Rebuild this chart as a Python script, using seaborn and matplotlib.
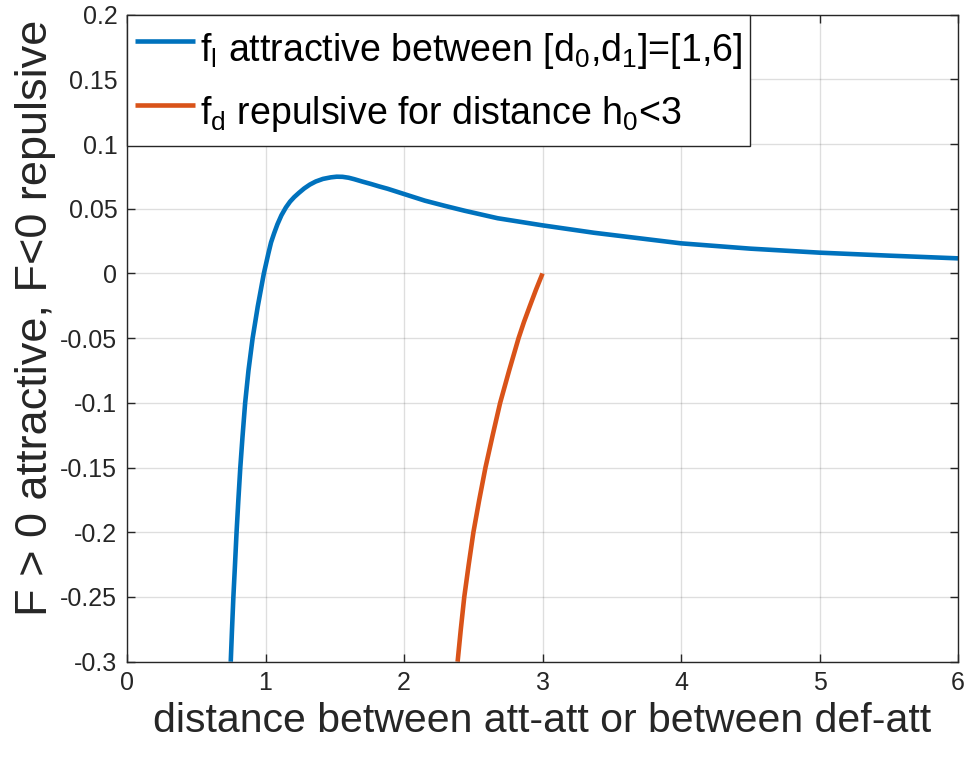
import matplotlib
matplotlib.use("Agg")
import matplotlib.pyplot as plt
import seaborn as sns
import pandas as pd

# Attractive force f_l
fl_x = [0.749, 0.758, 0.768, 0.779, 0.791, 0.804, 0.818, 0.834, 0.853, 0.877, 0.907,
        0.944, 0.988, 1.021, 1.040, 1.062, 1.086, 1.115, 1.147, 1.177, 1.207, 1.240,
        1.279, 1.320, 1.363, 1.415, 1.472, 1.514, 1.556, 1.600, 1.640, 1.700, 1.761,
        1.820, 1.881, 1.989, 2.15, 2.29, 2.437, 2.676, 3.0, 3.37, 3.5, 4.0, 4.5,
        5.0, 5.5, 6.0]
fl_y = [-0.3, -0.2755, -0.25, -0.2266, -0.2, -0.175, -0.15, -0.1261, -0.1, -0.075, -0.05,
        -0.0255, 0.0, 0.0156, 0.024, 0.031, 0.038, 0.045, 0.051, 0.0555, 0.059, 0.0622,
        0.0657, 0.0687, 0.0711, 0.0731, 0.0743, 0.0748, 0.0747, 0.0740, 0.0729, 0.0710, 0.0692,
        0.0673, 0.0655, 0.0618, 0.0563, 0.0524, 0.0485, 0.0427, 0.0372, 0.0315, 0.0298, 0.0233,
        0.0192, 0.0161, 0.0138, 0.0117]

# Repulsive force f_d
fd_x = [2.387, 2.410, 2.435, 2.467, 2.501, 2.543, 2.588, 2.640, 2.694, 2.759, 2.827,
        2.866, 2.909, 2.953, 3.0]
fd_y = [-0.3, -0.275, -0.25, -0.225, -0.2, -0.175, -0.15, -0.125, -0.1, -0.075, -0.05,
        -0.0375, -0.025, -0.0125, 0.0]

x_ticks = [0, 1, 2, 3, 4, 5, 6]
y_ticks = [-0.3, -0.25, -0.2, -0.15, -0.1, -0.05, 0, 0.05, 0.1, 0.15, 0.2]
y_tick_labels = ["-0.3", "-0.25", "-0.2", "-0.15", "-0.1", "-0.05", "0", "0.05", "0.1", "0.15", "0.2"]

label_l = r"f$_\mathregular{l}$ attractive between [d$_\mathregular{0}$,d$_\mathregular{1}$]=[1,6]"
label_d = r"f$_\mathregular{d}$ repulsive for distance h$_\mathregular{0}$<3"

sns.set_style("white")
plt.rcParams["font.family"] = ["Liberation Sans", "DejaVu Sans"]
plt.rcParams["mathtext.fontset"] = "custom"
plt.rcParams["mathtext.rm"] = "Liberation Sans"
plt.rcParams["lines.solid_joinstyle"] = "round"
plt.rcParams["lines.solid_capstyle"] = "butt"

fig = plt.figure(figsize=(9.68, 7.57), dpi=100)
ax = fig.add_axes([0.1312, 0.1259, 0.8585, 0.8547])

df_l = pd.DataFrame({"x": fl_x, "y": fl_y})
df_d = pd.DataFrame({"x": fd_x, "y": fd_y})
sns.lineplot(data=df_l, x="x", y="y", ax=ax, color="#0072BD", linewidth=3.3,
             label=label_l, sort=False, estimator=None)
sns.lineplot(data=df_d, x="x", y="y", ax=ax, color="#D95319", linewidth=3.3,
             label=label_d, sort=False, estimator=None)

ax.set_xlim(0, 6)
ax.set_ylim(-0.3, 0.2)
ax.set_xticks(x_ticks)
ax.set_xticklabels([str(t) for t in x_ticks])
ax.set_yticks(y_ticks)
ax.set_yticklabels(y_tick_labels)
ax.grid(True, color="#000000", alpha=0.13, linewidth=1.0)
ax.set_axisbelow(True)
for s in ax.spines.values():
    s.set_color("#262626")
    s.set_linewidth(1.0)
    s.set_visible(True)
ax.tick_params(direction="in", length=6, width=1.0, color="#262626",
               labelsize=18, labelcolor="#262626", top=True, right=True,
               bottom=True, left=True, pad=7)

ax.set_xlabel("distance between att-att or between def-att", fontsize=29.5,
              color="#262626", labelpad=5)
ax.set_ylabel("F > 0 attractive, F<0 repulsive", fontsize=32.5, color="#262626",
              labelpad=3, y=0.531)

leg = ax.legend(loc="upper left", fontsize=27, frameon=True, fancybox=False,
                edgecolor="#262626", framealpha=1.0, borderaxespad=0.0,
                handlelength=1.6, handleheight=1.78, handletextpad=0.15,
                borderpad=0.2, labelspacing=0.3)
leg.get_frame().set_linewidth(1.0)
for t in leg.get_texts():
    t.set_color("#000000")

fig.savefig("out.png", dpi=100)
